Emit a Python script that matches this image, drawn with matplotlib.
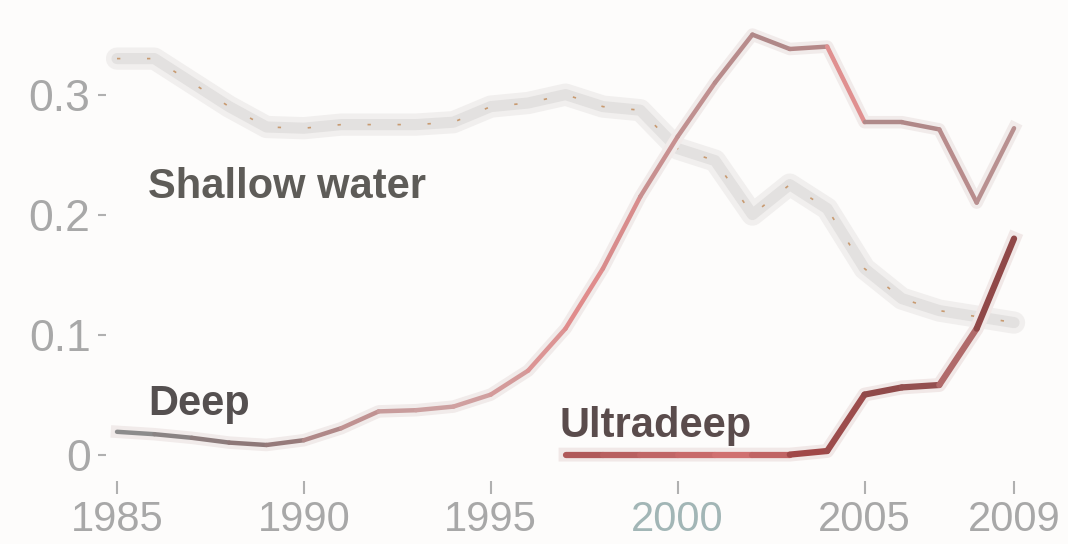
import matplotlib
matplotlib.use("Agg")
import matplotlib.pyplot as plt
import numpy as np
from matplotlib.collections import LineCollection

years = list(range(1985, 2010))
shallow = [0.330, 0.330, 0.310, 0.290, 0.273, 0.272, 0.275, 0.275, 0.275, 0.277,
           0.290, 0.293, 0.300, 0.290, 0.287, 0.255, 0.245, 0.200, 0.225, 0.205,
           0.155, 0.130, 0.120, 0.115, 0.110]
deep = [0.019, 0.017, 0.014, 0.010, 0.008, 0.012, 0.022, 0.036, 0.037, 0.040,
        0.050, 0.070, 0.105, 0.155, 0.215, 0.265, 0.310, 0.350, 0.338, 0.340,
        0.277, 0.277, 0.271, 0.210, 0.272]
ultra_years = list(range(1997, 2010))
ultradeep = [0.0, 0.0, 0.0, 0.0, 0.0, 0.0, 0.0, 0.003, 0.050, 0.056, 0.058, 0.105, 0.180]

labels = ["Shallow water", "Deep", "Ultradeep"]
xticks = [1985, 1990, 1995, 2000, 2005, 2009]
yticks = [0, 0.1, 0.2, 0.3]
ytick_labels = ["0", "0.1", "0.2", "0.3"]

deep_colors = ["#8c8c8c", "#8a8484", "#8c7c7c", "#8e7878", "#967a7a", "#b08888",
               "#c09292", "#c89c9c", "#cca0a0", "#d0a0a0", "#d49a9a", "#dc9494",
               "#e08c8c", "#d88c8c", "#c89090", "#c09090", "#b88c8c", "#b08888",
               "#b48888", "#e09090", "#b08a8a", "#b08888", "#b88c8c", "#b89090"]
ultra_colors = ["#b05a5a", "#b86060", "#c06666", "#c86a6a", "#d07070", "#c06464",
                "#a04848", "#9c4c4c", "#904a4a", "#945050", "#b06a6a", "#904848"]

fig = plt.figure(figsize=(10.68, 5.44), dpi=100, facecolor="#fdfcfb")
ax = fig.add_axes([105.8 / 1068, 63 / 544, (1058.9 - 105.8) / 1068, 470.4 / 544])
ax.set_facecolor("#fdfcfb")
ax.set_xlim(1984.7, 2010.2)
ax.set_ylim(-0.022, 0.37)
for s in ax.spines.values():
    s.set_visible(False)

# Shallow water: light, soft line with faint dotted overlay
ax.plot(years, shallow, color="#f1efee", lw=16, solid_capstyle="round", zorder=1)
ax.plot(years, shallow, color="#e3e1e0", lw=8, solid_capstyle="round", zorder=2)
ax.plot(years, shallow, color="#c89a70", lw=1.2, dashes=(2, 16), zorder=3)

def grad_line(x, y, colors, lw, z):
    pts = np.column_stack([x, y])
    segs = np.stack([pts[:-1], pts[1:]], axis=1)
    lc = LineCollection(segs, colors=colors, linewidths=lw, capstyle="round",
                        joinstyle="round", zorder=z)
    ax.add_collection(lc)

# halo
ax.plot(years, deep, color="#f1ebea", lw=9, zorder=3)
grad_line(years, deep, deep_colors, 3.2, 4)
ax.plot(ultra_years, ultradeep, color="#f1e8e7", lw=10, zorder=3)
grad_line(ultra_years, ultradeep, ultra_colors, 4.5, 5)

txt_kw = dict(fontsize=30, family=["Liberation Sans", "DejaVu Sans"], fontweight="bold",
              va="baseline", ha="left")
ax.text(1985.83, 0.214, labels[0], color="#5e5c58", **txt_kw)
ax.text(1985.83, 0.033, labels[1], color="#555050", **txt_kw)
ax.text(1996.85, 0.015, labels[2], color="#5a4c4c", **txt_kw)

ax.set_xticks(xticks)
ax.set_xticklabels([str(t) for t in xticks])
ax.set_yticks(yticks)
ax.set_yticklabels(ytick_labels)
ax.tick_params(axis="both", colors="#b0b0b0", labelcolor="#a8a8a8",
               width=1.5, direction="out")
ax.tick_params(axis="x", labelsize=30, length=9.4, pad=4.5)
ax.tick_params(axis="y", labelsize=32, length=6, pad=5)
for lab in ax.get_xticklabels() + ax.get_yticklabels():
    lab.set_family(["Liberation Sans", "DejaVu Sans"])
ax.get_xticklabels()[3].set_color("#a2b6b6")

fig.savefig("out.png", dpi=100, facecolor=fig.get_facecolor())
